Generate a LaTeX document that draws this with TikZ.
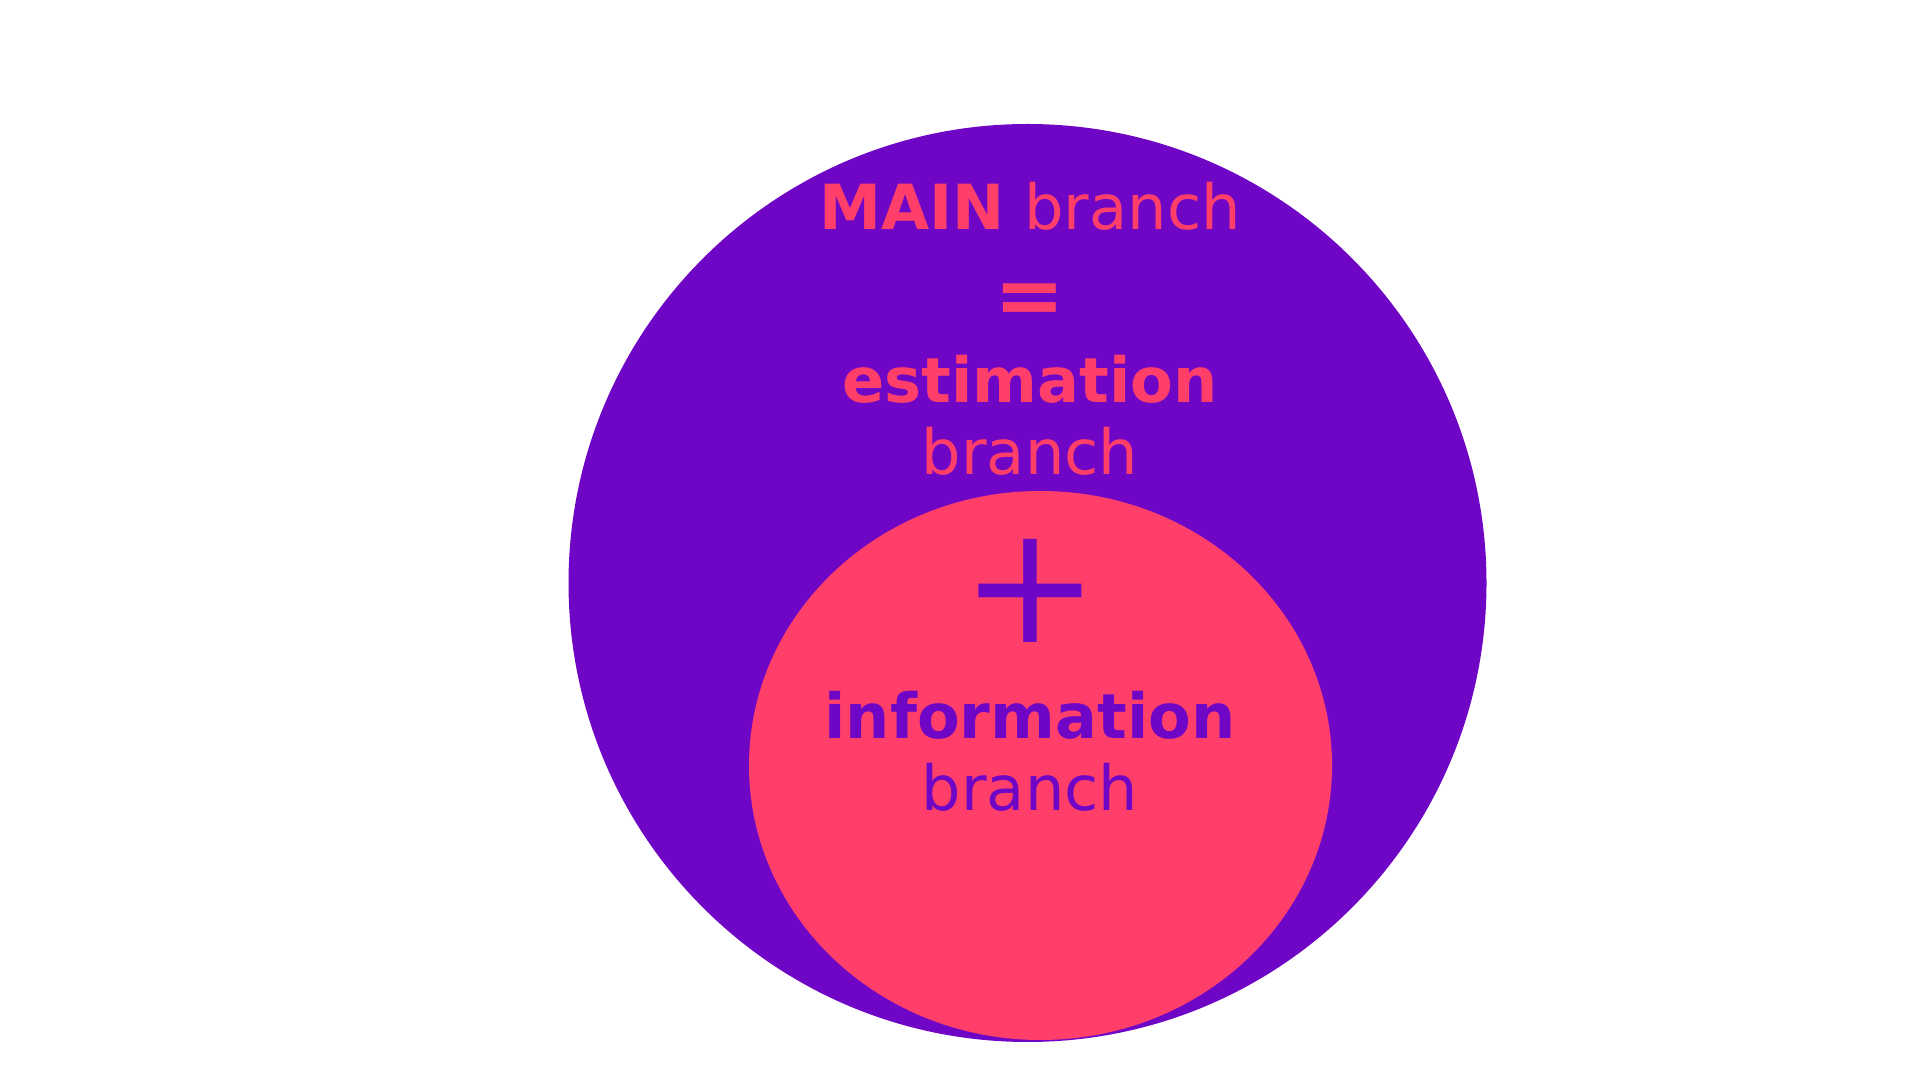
\documentclass[tikz,border=0pt]{standalone}
\usepackage{fontspec}
\setmainfont{DejaVu Sans}
\usepackage{tikz}
\usepackage{xcolor}

\definecolor{branchpurple}{HTML}{6F06C6}
\definecolor{branchpink}{HTML}{FF3F6A}

\tikzset{
    label text/.style={inner sep=0pt, anchor=base, font=\fontsize{17.7}{21}\selectfont},
    sign text/.style={inner sep=0pt, anchor=center}
}

\begin{document}
\begin{tikzpicture}
    \useasboundingbox (0, 0) rectangle (19.2, 10.8);

    % Outer circle and inner ellipse
    \fill[branchpurple] (10.275, 4.97) circle (4.59);
    \fill[branchpink] (10.405, 3.145) ellipse (2.915 and 2.745);

    % Upper text
    \node[label text, text=branchpink] (mainbranch) at (10.30, 8.507) {\textbf{MAIN} branch};
    \node[sign text, text=branchpink, font=\fontsize{24}{28}\selectfont\bfseries] (equals) at (10.30, 7.76) {=};
    \node[label text, text=branchpink, font=\fontsize{17.7}{21}\selectfont\bfseries] (estimation) at (10.30, 6.773) {estimation};
    \node[label text, text=branchpink] (estbranch) at (10.30, 6.057) {branch};

    % Lower text
    \node[sign text, text=branchpurple, font=\fontsize{46.8}{50}\selectfont] (plus) at (10.30, 4.887) {+};
    \node[label text, text=branchpurple, font=\fontsize{17.7}{21}\selectfont\bfseries] (information) at (10.30, 3.417) {information};
    \node[label text, text=branchpurple] (infobranch) at (10.30, 2.693) {branch};
\end{tikzpicture}
\end{document}
